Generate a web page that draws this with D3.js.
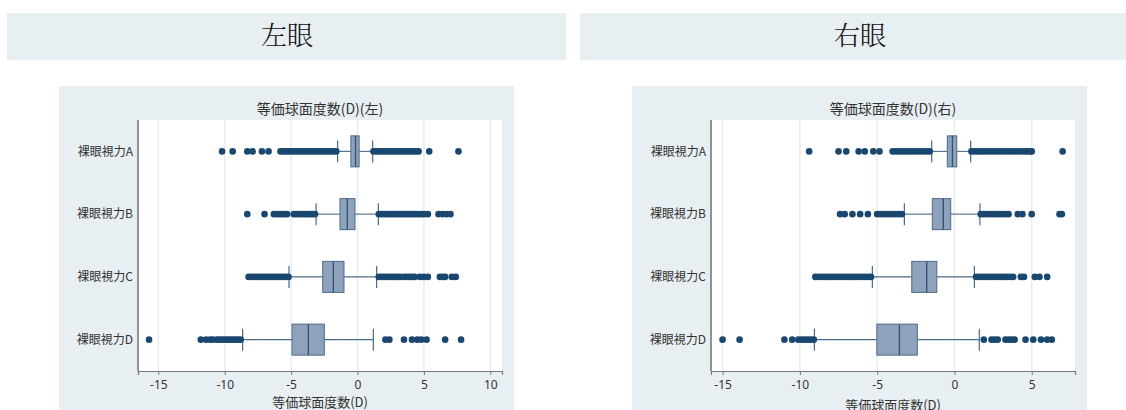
<!DOCTYPE html>
<html>
<head>
<meta charset="utf-8">
<script src="https://cdn.jsdelivr.net/npm/d3@7"></script>
<style>
    body { margin: 0; background: #fff; }
    text { font-family: "Noto Sans CJK JP", "Noto Sans", sans-serif; fill: #333; }
    .header { font-family: "Noto Serif CJK JP", "Noto Sans CJK JP", serif; font-size: 26px; font-weight: 300; fill: #111; }
</style>
</head>
<body>
<div id="vis"></div>
<script>

// Data ------------------------------------------------------------------------

const categories = ["裸眼視力A", "裸眼視力B", "裸眼視力C", "裸眼視力D"];

// left eye box statistics per category
const leftQ1 = [-0.5, -1.32, -2.62, -4.93];
const leftMedian = [-0.15, -0.77, -1.82, -3.7];
const leftQ3 = [0.12, -0.19, -1.02, -2.5];
const leftLowWhisker = [-1.5, -3.12, -5.16, -8.65];
const leftHighWhisker = [1.14, 1.57, 1.44, 1.19];
const leftOutliers = [
    [-10.2, -9.4, -8.3, -7.9, -7.2, -6.7, -5.8, -5.6, -5.4, -5.2, -5.0, -4.8, -4.6, -4.4, -4.2,
     -4.0, -3.8, -3.6, -3.4, -3.2, -3.0, -2.8, -2.6, -2.4, -2.2, -2.0, -1.8, -1.6,
     1.2, 1.4, 1.6, 1.8, 2.0, 2.2, 2.4, 2.6, 2.8, 3.0, 3.2, 3.4, 3.6, 3.8, 4.0, 4.2, 4.4, 4.6, 5.4, 7.6],
    [-8.3, -7.0, -6.3, -6.1, -5.9, -5.7, -5.5, -5.3, -4.8, -4.6, -4.4, -4.2, -4.0, -3.8, -3.6, -3.4, -3.2,
     1.6, 1.8, 2.0, 2.2, 2.4, 2.6, 2.8, 3.0, 3.2, 3.4, 3.6, 3.8, 4.0, 4.2, 4.4, 4.6, 4.8, 5.0, 5.3,
     6.1, 6.4, 6.7, 7.0],
    [-8.2, -8.0, -7.8, -7.6, -7.4, -7.2, -7.0, -6.8, -6.6, -6.4, -6.2, -6.0, -5.8, -5.6, -5.4, -5.2,
     1.6, 1.8, 2.0, 2.2, 2.4, 2.6, 2.8, 3.0, 3.2, 3.5, 3.7, 3.9, 4.1, 4.3, 4.7, 5.0, 5.3,
     6.2, 6.4, 6.6, 7.1, 7.4],
    [-15.7, -11.8, -11.4, -11.1, -10.9, -10.6, -10.4, -10.2, -10.0, -9.8, -9.6, -9.4, -9.2, -9.0, -8.8,
     2.1, 2.4, 3.5, 4.1, 4.5, 4.8, 5.2, 6.6, 7.8]
];

// right eye box statistics per category
const rightQ1 = [-0.46, -1.43, -2.76, -5.02];
const rightMedian = [-0.13, -0.72, -1.79, -3.56];
const rightQ3 = [0.15, -0.24, -1.14, -2.4];
const rightLowWhisker = [-1.47, -3.24, -5.31, -9.06];
const rightHighWhisker = [1.05, 1.65, 1.29, 1.61];
const rightOutliers = [
    [-9.4, -7.5, -7.0, -6.2, -5.8, -5.25, -4.85, -4.0, -3.8, -3.6, -3.4, -3.2, -3.0, -2.8, -2.6,
     -2.4, -2.2, -2.0, -1.8, -1.6,
     1.1, 1.3, 1.5, 1.7, 1.9, 2.1, 2.3, 2.5, 2.7, 2.9, 3.1, 3.3, 3.5, 3.7, 3.9, 4.1, 4.3, 4.5,
     4.7, 4.9, 5.0, 7.0],
    [-7.4, -7.1, -6.6, -6.1, -5.6, -5.0, -4.8, -4.6, -4.4, -4.2, -4.0, -3.8, -3.6, -3.4,
     1.7, 1.9, 2.1, 2.3, 2.5, 2.7, 2.9, 3.1, 3.3, 3.5, 4.1, 4.4, 5.0, 6.8, 6.95],
    [-9.0, -8.8, -8.6, -8.4, -8.2, -8.0, -7.8, -7.6, -7.4, -7.2, -7.0, -6.8, -6.6, -6.4, -6.2,
     -6.0, -5.8, -5.6, -5.4,
     1.4, 1.6, 1.8, 2.0, 2.2, 2.4, 2.6, 2.8, 3.0, 3.2, 3.4, 3.6, 3.8, 4.3, 4.5, 5.2, 5.5, 6.0],
    [-15.0, -13.9, -11.0, -10.5, -10.1, -9.9, -9.7, -9.5, -9.3, -9.1,
     1.9, 2.4, 2.6, 2.8, 3.3, 3.5, 3.7, 3.9, 4.6, 5.1, 5.6, 6.0, 6.3]
];

const leftTicks = [-15, -10, -5, 0, 5, 10];
const rightTicks = [-15, -10, -5, 0, 5];

// Colours ---------------------------------------------------------------------

const COL_BG = "#e8eff2";
const COL_BOX = "#8ea3bb";
const COL_LINE = "#4a6a8a";
const COL_DOT = "#1a476f";

// Setup -----------------------------------------------------------------------

const svg = d3.select("#vis")
    .append("svg")
    .attr("width", 1126)
    .attr("height", 410);

// header bars
[["左眼", 7, 559, 287], ["右眼", 580, 546, 860]].forEach(([label, x, w, cx]) => {
    svg.append("rect")
        .attr("x", x).attr("y", 13)
        .attr("width", w).attr("height", 47)
        .attr("fill", COL_BG);
    svg.append("text")
        .attr("class", "header")
        .attr("x", cx)
        .attr("y", 45)
        .attr("text-anchor", "middle")
        .text(label);
});

buildPanel({
    panel: {x: 59, y: 86, w: 455, h: 324},
    plot: {left: 138, right: 502, top: 120, bottom: 371},
    domain: [-16.53, 10.88],
    ticks: leftTicks,
    title: "等価球面度数(D)(左)",
    xtitleY: 407,
    q1: leftQ1, median: leftMedian, q3: leftQ3,
    lo: leftLowWhisker, hi: leftHighWhisker,
    outliers: leftOutliers
});

buildPanel({
    panel: {x: 632, y: 86, w: 455, h: 324},
    plot: {left: 711, right: 1075, top: 120, bottom: 371},
    domain: [-15.75, 7.8],
    ticks: rightTicks,
    title: "等価球面度数(D)(右)",
    xtitleY: 410,
    q1: rightQ1, median: rightMedian, q3: rightQ3,
    lo: rightLowWhisker, hi: rightHighWhisker,
    outliers: rightOutliers
});

// Panel builder ---------------------------------------------------------------

function buildPanel(config) {

    const p = config.plot;
    const g = svg.append("g");

    // panel background
    g.append("rect")
        .attr("x", config.panel.x).attr("y", config.panel.y)
        .attr("width", config.panel.w).attr("height", config.panel.h)
        .attr("fill", COL_BG);

    // plot area
    g.append("rect")
        .attr("x", p.left).attr("y", p.top)
        .attr("width", p.right - p.left).attr("height", p.bottom - p.top)
        .attr("fill", "#fff");

    const x = d3.scaleLinear()
        .domain(config.domain)
        .range([p.left, p.right]);

    const y = d3.scalePoint()
        .domain(categories)
        .range([p.top, p.bottom])
        .padding(0.5);

    // grid lines
    g.selectAll(".grid")
        .data(config.ticks)
        .enter()
        .append("line")
        .attr("x1", d => x(d)).attr("x2", d => x(d))
        .attr("y1", p.top).attr("y2", p.bottom)
        .attr("stroke", "#e6eef1")
        .attr("stroke-width", 1.5);

    // title
    g.append("text")
        .attr("x", (p.left + p.right) / 2)
        .attr("y", 114)
        .attr("text-anchor", "middle")
        .style("font-size", "14px")
        .text(config.title);

    // x axis
    const xaxis = d3.axisBottom(x)
        .tickValues(config.ticks)
        .tickSize(4)
        .tickPadding(5)
        .tickFormat(d => d < 0 ? "-" + Math.abs(d) : d);

    const ax = g.append("g")
        .attr("transform", `translate(0,${p.bottom})`)
        .call(xaxis);
    ax.select(".domain").attr("stroke", "#777").attr("stroke-width", 1.2);
    ax.selectAll(".tick line").attr("stroke", "#777");
    ax.selectAll(".tick text")
        .style("font-size", "12px")
        .style("font-family", "'Noto Sans', sans-serif")
        .attr("fill", "#333");

    g.append("text")
        .attr("x", (p.left + p.right) / 2)
        .attr("y", config.xtitleY)
        .attr("text-anchor", "middle")
        .style("font-size", "13px")
        .text("等価球面度数(D)");

    // y axis line and labels
    g.append("line")
        .attr("x1", p.left).attr("x2", p.left)
        .attr("y1", p.top).attr("y2", p.bottom)
        .attr("stroke", "#777")
        .attr("stroke-width", 1.6);

    g.selectAll(".ylab")
        .data(categories)
        .enter()
        .append("text")
        .attr("x", p.left - 5)
        .attr("y", d => y(d))
        .attr("dy", "0.35em")
        .attr("text-anchor", "end")
        .style("font-size", "12px")
        .text(d => d);

    const boxH = 31;
    const capH = 22;

    categories.forEach((c, i) => {
        const cy = y(c);

        // whiskers
        g.append("line")
            .attr("x1", x(config.lo[i])).attr("x2", x(config.q1[i]))
            .attr("y1", cy).attr("y2", cy)
            .attr("stroke", COL_LINE).attr("stroke-width", 1.1);
        g.append("line")
            .attr("x1", x(config.q3[i])).attr("x2", x(config.hi[i]))
            .attr("y1", cy).attr("y2", cy)
            .attr("stroke", COL_LINE).attr("stroke-width", 1.1);

        // caps
        [config.lo[i], config.hi[i]].forEach(v => {
            g.append("line")
                .attr("x1", x(v)).attr("x2", x(v))
                .attr("y1", cy - capH / 2).attr("y2", cy + capH / 2)
                .attr("stroke", COL_LINE).attr("stroke-width", 1.2);
        });

        // outliers
        g.selectAll(null)
            .data(config.outliers[i])
            .enter()
            .append("circle")
            .attr("cx", d => x(d))
            .attr("cy", cy)
            .attr("r", 3.3)
            .attr("fill", COL_DOT);

        // box
        g.append("rect")
            .attr("x", x(config.q1[i]))
            .attr("y", cy - boxH / 2)
            .attr("width", x(config.q3[i]) - x(config.q1[i]))
            .attr("height", boxH)
            .attr("fill", COL_BOX)
            .attr("stroke", COL_LINE)
            .attr("stroke-width", 1);

        // median
        g.append("line")
            .attr("x1", x(config.median[i])).attr("x2", x(config.median[i]))
            .attr("y1", cy - boxH / 2).attr("y2", cy + boxH / 2)
            .attr("stroke", "#2e5073")
            .attr("stroke-width", 1.3);
    });
}

</script>
</body>
</html>
